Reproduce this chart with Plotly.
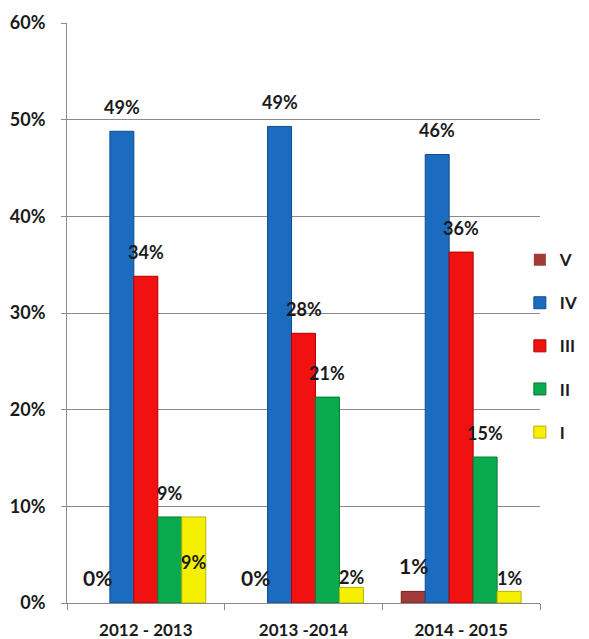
import plotly.graph_objects as go

categories = ["2012 - 2013", "2013 -2014", "2014 - 2015"]
series_names = ["V", "IV", "III", "II", "I"]
v_vals = [0.0, 0.0, 1.2]
iv_vals = [48.8, 49.3, 46.4]
iii_vals = [33.8, 27.9, 36.3]
ii_vals = [8.9, 21.3, 15.1]
i_vals = [8.9, 1.6, 1.2]
series_values = [v_vals, iv_vals, iii_vals, ii_vals, i_vals]

colors = ["#A23A3A", "#1B6BC0", "#F21111", "#0AAA4E", "#F4F000"]
edge_colors = ["#6E2222", "#114C8C", "#B00000", "#067A36", "#B8B400"]

FONT = "Lato"
# page body has an 8px default margin, so the figure is made 8px smaller
W, H = 581, 631
ML, MR, MT, MB = 59, 49, 15, 36
BARGAP = 0.24
plot_w = W - ML - MR
bar_px = plot_w / len(categories) * (1 - BARGAP) / len(series_names)

fig = go.Figure()
for name, vals, c, ec in zip(series_names, series_values, colors, edge_colors):
    fig.add_trace(go.Bar(
        name=name, x=categories, y=vals, legendgroup=name,
        marker=dict(color=c, line=dict(color=ec, width=[0 if v == 0 else 1 for v in vals])),
    ))

# data label offsets (px above bar top); special cases
default_shift = 24
shift_override = {(0, 4): -45, (1, 4): 11, (2, 4): 13}
annotations = []
for si, (name, vals) in enumerate(zip(series_names, series_values)):
    for ci, (cat, v) in enumerate(zip(categories, vals)):
        ys = shift_override.get((ci, si), default_shift)
        size = 18
        if si == 0:
            ys = 26
            size = 21
        annotations.append(dict(
            x=cat, y=v, xref="x", yref="y", text=f"{round(v):d}%",
            showarrow=False, xshift=(si - 2) * bar_px, yshift=ys,
            font=dict(family=FONT, size=size, color="#1a1a1a", weight="bold"),
        ))

fig.update_layout(
    width=W, height=H,
    margin=dict(l=ML, r=MR, t=MT, b=MB, pad=0, autoexpand=False),
    paper_bgcolor="white", plot_bgcolor="white",
    barmode="group", bargap=BARGAP, bargroupgap=0,
    font=dict(family=FONT, size=17, color="#1a1a1a", weight="bold"),
    showlegend=True,
    legend=dict(
        xref="container", yref="container",
        x=0.881, xanchor="left", y=0.629, yanchor="top",
        traceorder="grouped", tracegroupgap=18,
        font=dict(family=FONT, size=17, color="#1a1a1a", weight="bold"),
        bgcolor="rgba(0,0,0,0)",
    ),
    annotations=annotations,
)
fig.update_yaxes(
    range=[0, 60], dtick=10, ticksuffix="%", automargin=False,
    showgrid=True, gridcolor="#8a8a8a", gridwidth=1,
    showline=True, linecolor="#8a8a8a", linewidth=1,
    ticks="outside", ticklen=5, tickcolor="#8a8a8a",
    ticklabelstandoff=12, zeroline=False,
    tickfont=dict(family=FONT, size=18, color="#1a1a1a", weight="bold"),
)
fig.update_xaxes(
    showline=True, linecolor="#8a8a8a", linewidth=1, automargin=False,
    ticks="outside", ticklen=6, tickcolor="#8a8a8a", tickson="boundaries",
    ticklabelstandoff=12,
    tickfont=dict(family=FONT, size=17, color="#1a1a1a", weight="bold"),
)

fig.write_html("out.html")
